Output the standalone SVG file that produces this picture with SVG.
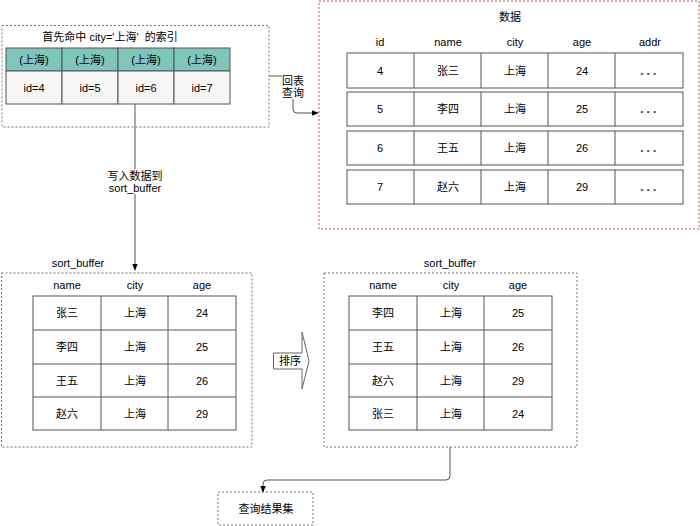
<svg xmlns="http://www.w3.org/2000/svg" width="700" height="526" viewBox="0 0 700 526">
<defs>
<style>
text{font-family:"Liberation Sans","Noto Sans CJK SC",sans-serif;font-size:11px;fill:#000;text-anchor:middle;dominant-baseline:central}
.dash{fill:#fff;stroke:#777;stroke-width:1;stroke-dasharray:2 2}
.red{fill:#fff;stroke:#c05050;stroke-width:1;stroke-dasharray:2 2}
.cell{fill:#fff;stroke:#555;stroke-width:1}
.hd{fill:#7fc5b9;stroke:#555;stroke-width:1}
.lt{fill:#f5f5f5;stroke:#555;stroke-width:1}
.ln{fill:none;stroke:#555;stroke-width:1}
.dots{font-size:8px;fill:#444;letter-spacing:3.5px}
</style>
<marker id="ah" viewBox="0 0 10 10" refX="9" refY="5" markerWidth="7" markerHeight="7" orient="auto" markerUnits="userSpaceOnUse">
<path d="M0,1 L10,5 L0,9 Z" fill="#000"/>
</marker>
</defs>

<g id="index">
<rect class="dash" x="2" y="25.5" width="267" height="101.5"/>
<text x="110" y="37">首先命中 city='上海'&#160; 的索引</text>
<rect class="hd" x="6" y="48" width="56" height="23"/>
<rect class="hd" x="62" y="48" width="56" height="23"/>
<rect class="hd" x="118" y="48" width="56" height="23"/>
<rect class="hd" x="174" y="48" width="56" height="23"/>
<rect class="lt" x="6" y="71" width="56" height="33"/>
<rect class="lt" x="62" y="71" width="56" height="33"/>
<rect class="lt" x="118" y="71" width="56" height="33"/>
<rect class="lt" x="174" y="71" width="56" height="33"/>
<text x="34" y="59.5">(上海)</text>
<text x="90" y="59.5">(上海)</text>
<text x="146" y="59.5">(上海)</text>
<text x="202" y="59.5">(上海)</text>
<text x="34" y="87.5">id=4</text>
<text x="90" y="87.5">id=5</text>
<text x="146" y="87.5">id=6</text>
<text x="202" y="87.5">id=7</text>
</g>

<g id="data">
<rect class="red" x="319" y="1" width="380" height="228"/>
<text x="510" y="17">数据</text>
<text x="380" y="42">id</text>
<text x="448" y="42">name</text>
<text x="515" y="42">city</text>
<text x="582" y="42">age</text>
<text x="650" y="42">addr</text>
<g>
<rect class="cell" x="347" y="53" width="336" height="35"/>
<path class="ln" d="M414,53V88M481,53V88M548,53V88M615,53V88"/>
<text x="380" y="70.5">4</text><text x="448" y="70.5">张三</text><text x="515" y="70.5">上海</text><text x="582" y="70.5">24</text><text class="dots" x="650" y="73">•••</text>
</g>
<g>
<rect class="cell" x="347" y="92" width="336" height="34"/>
<path class="ln" d="M414,92V126M481,92V126M548,92V126M615,92V126"/>
<text x="380" y="109">5</text><text x="448" y="109">李四</text><text x="515" y="109">上海</text><text x="582" y="109">25</text><text class="dots" x="650" y="111.5">•••</text>
</g>
<g>
<rect class="cell" x="347" y="131" width="336" height="34"/>
<path class="ln" d="M414,131V165M481,131V165M548,131V165M615,131V165"/>
<text x="380" y="148">6</text><text x="448" y="148">王五</text><text x="515" y="148">上海</text><text x="582" y="148">26</text><text class="dots" x="650" y="150.5">•••</text>
</g>
<g>
<rect class="cell" x="347" y="170" width="336" height="34"/>
<path class="ln" d="M414,170V204M481,170V204M548,170V204M615,170V204"/>
<text x="380" y="187">7</text><text x="448" y="187">赵六</text><text x="515" y="187">上海</text><text x="582" y="187">29</text><text class="dots" x="650" y="189.5">•••</text>
</g>
</g>

<g id="sortbuf1">
<text x="78" y="263">sort_buffer</text>
<rect class="dash" x="1.5" y="273" width="250.5" height="174"/>
<text x="67" y="285">name</text>
<text x="135" y="285">city</text>
<text x="202" y="285">age</text>
<rect class="cell" x="33" y="296" width="203" height="134"/>
<path class="ln" d="M101,296V430M168,296V430M33,330H236M33,364H236M33,397H236"/>
<text x="67" y="313">张三</text><text x="135" y="313">上海</text><text x="202" y="313">24</text>
<text x="67" y="347">李四</text><text x="135" y="347">上海</text><text x="202" y="347">25</text>
<text x="67" y="380.5">王五</text><text x="135" y="380.5">上海</text><text x="202" y="380.5">26</text>
<text x="67" y="413.5">赵六</text><text x="135" y="413.5">上海</text><text x="202" y="413.5">29</text>
</g>

<g id="sortarrow">
<path d="M273.5,353 H302 V332 L309,361 L302,389 V369 H273.5 Z" fill="#fff" stroke="#666" stroke-width="1"/>
<text x="290" y="361">排序</text>
</g>

<g id="sortbuf2">
<text x="450" y="263">sort_buffer</text>
<rect class="dash" x="324" y="273" width="253" height="174"/>
<text x="383" y="285">name</text>
<text x="451" y="285">city</text>
<text x="518" y="285">age</text>
<rect class="cell" x="349" y="296" width="203" height="134"/>
<path class="ln" d="M417,296V430M484,296V430M349,330H552M349,364H552M349,397H552"/>
<text x="383" y="313">李四</text><text x="451" y="313">上海</text><text x="518" y="313">25</text>
<text x="383" y="347">王五</text><text x="451" y="347">上海</text><text x="518" y="347">26</text>
<text x="383" y="380.5">赵六</text><text x="451" y="380.5">上海</text><text x="518" y="380.5">29</text>
<text x="383" y="413.5">张三</text><text x="451" y="413.5">上海</text><text x="518" y="413.5">24</text>
</g>

<g id="result">
<rect class="dash" x="218" y="492" width="95" height="33"/>
<text x="266" y="509">查询结果集</text>
</g>

<g id="connectors">
<path class="ln" d="M135,104 V270" marker-end="url(#ah)"/>
<rect x="108" y="169" width="54" height="25" fill="#fff"/>
<text x="135" y="176">写入数据到</text>
<text x="135" y="188">sort_buffer</text>
<path class="ln" d="M269,76 H293 V109 Q293,113 297,113 H318" marker-end="url(#ah)"/>
<rect x="282" y="74" width="22" height="25" fill="#fff"/>
<text x="293" y="81">回表</text>
<text x="293" y="93">查询</text>
<path class="ln" d="M450,447 V476 Q450,480 446,480 H267 Q263,480 263,484 V492" marker-end="url(#ah)"/>
</g>
</svg>
